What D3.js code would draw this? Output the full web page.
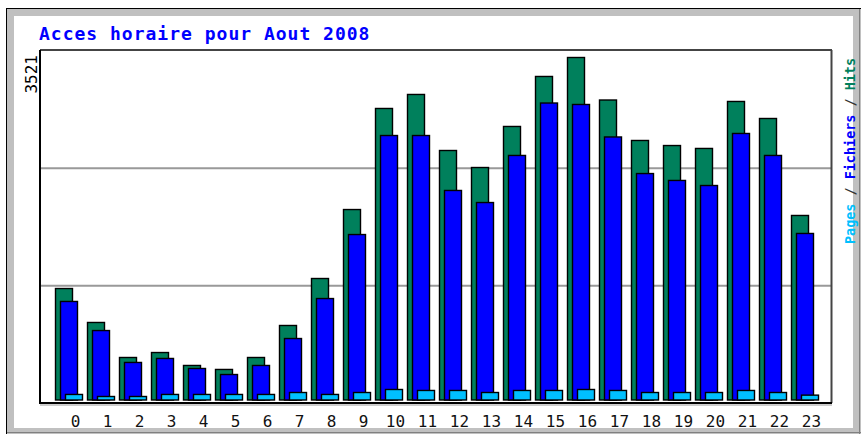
<!DOCTYPE html>
<html>
<head>
<meta charset="utf-8">
<script src="https://cdn.jsdelivr.net/npm/d3@7"></script>
<style>
  body { margin: 0; background: #fff; }
  svg { display: block; }
</style>
</head>
<body>
<div id="main"></div>
<script>
// données (accès par heure, août 2008)
const hours = d3.range(0, 24);
const hits = [1146, 797, 437, 488, 355, 314, 437, 766, 1249, 1958, 2997, 3141,
              2565, 2390, 2812, 3326, 3521, 3084, 2668, 2616, 2586, 3069, 2894, 1897];
const fichiers = [1013, 714, 386, 427, 324, 262, 355, 632, 1043, 1701, 2719, 2719,
                  2154, 2030, 2514, 3053, 3038, 2704, 2328, 2257, 2205, 2740, 2514, 1712];
const pages = [57, 36, 36, 57, 57, 57, 57, 77, 57, 77, 108, 98,
               98, 77, 98, 98, 108, 98, 77, 77, 77, 98, 77, 50];
const maxLabel = "3521";
const titre = "Acces horaire pour Aout 2008";

const ctx = {
  W: 861, H: 434,
  plotL: 40, plotT: 50, plotR: 831, plotB: 403,
  barW: 17, offset: 5,
  cHits: "#00805c", cFich: "#0000ff", cPages: "#00c0ff",
};

function drawFrame(svg) {
  // cadre gris façon webalizer
  svg.append("rect").attr("x", 6).attr("y", 8).attr("width", ctx.W - 6).attr("height", ctx.H - 8)
    .attr("fill", "#c0c0c0");
  svg.append("rect").attr("x", 14).attr("y", 16).attr("width", 839).attr("height", 412)
    .attr("fill", "#fff");
  svg.append("line").attr("x1", 6).attr("x2", ctx.W).attr("y1", 8.5).attr("y2", 8.5)
    .attr("stroke", "#000");
  svg.append("line").attr("x1", 6.5).attr("x2", 6.5).attr("y1", 8).attr("y2", ctx.H)
    .attr("stroke", "#000");
  svg.append("line").attr("x1", 859.5).attr("x2", 859.5).attr("y1", 9).attr("y2", ctx.H)
    .attr("stroke", "#808080");
  svg.append("line").attr("x1", 7).attr("x2", ctx.W).attr("y1", 432.5).attr("y2", 432.5)
    .attr("stroke", "#808080");
}

function drawChart(svg) {
  const x = d3.scaleBand().domain(hours).range([55, 55 + 32 * 24]);
  const y = d3.scaleLinear().domain([0, 3521]).range([399.5, 57]);
  const yGrid = d3.scaleLinear().domain([0, 3]).range([ctx.plotB, ctx.plotT]);

  // grille
  svg.append("g").selectAll("line").data([1, 2]).join("line")
    .attr("x1", ctx.plotL).attr("x2", ctx.plotR)
    .attr("y1", d => yGrid(d) + 0.5).attr("y2", d => yGrid(d) + 0.5)
    .attr("stroke", "#999").attr("stroke-width", 2);

  // cadre du graphique
  svg.append("line").attr("x1", ctx.plotL).attr("x2", ctx.plotR + 1)
    .attr("y1", ctx.plotT).attr("y2", ctx.plotT).attr("stroke", "#444").attr("stroke-width", 2);
  svg.append("line").attr("x1", ctx.plotR + 0.5).attr("x2", ctx.plotR + 0.5)
    .attr("y1", ctx.plotT).attr("y2", ctx.plotB).attr("stroke", "#444").attr("stroke-width", 2);

  const series = [
    { vals: hits, color: ctx.cHits, k: 0 },
    { vals: fichiers, color: ctx.cFich, k: 1 },
    { vals: pages, color: ctx.cPages, k: 2 },
  ];
  series.forEach(s => {
    svg.append("g").selectAll("rect").data(hours).join("rect")
      .attr("x", h => x(h) + s.k * ctx.offset + 0.5)
      .attr("y", h => y(s.vals[h]) + 0.5)
      .attr("width", ctx.barW)
      .attr("height", h => y(0) - y(s.vals[h]))
      .attr("fill", s.color)
      .attr("stroke", "#000")
      .attr("stroke-width", 1.4);
  });

  svg.append("line").attr("x1", ctx.plotL).attr("x2", ctx.plotL)
    .attr("y1", ctx.plotT).attr("y2", ctx.plotB + 1).attr("stroke", "#000").attr("stroke-width", 2);
  svg.append("line").attr("x1", ctx.plotL).attr("x2", ctx.plotR + 1)
    .attr("y1", ctx.plotB).attr("y2", ctx.plotB).attr("stroke", "#000").attr("stroke-width", 2);
  svg.append("line").attr("x1", ctx.plotL).attr("x2", ctx.plotR + 1)
    .attr("y1", ctx.plotB + 2).attr("y2", ctx.plotB + 2).attr("stroke", "#999").attr("stroke-width", 1);

  // heures
  svg.append("g").selectAll("text").data(hours).join("text")
    .attr("x", h => x(h) + 20.5)
    .attr("y", 427)
    .attr("text-anchor", "middle")
    .attr("font-family", "DejaVu Sans Mono, monospace")
    .attr("font-size", 16)
    .attr("fill", "#111")
    .text(h => h);

  // titre
  svg.append("text").attr("x", 39).attr("y", 40)
    .attr("font-family", "DejaVu Sans Mono, monospace")
    .attr("font-weight", "bold").attr("font-size", 18)
    .attr("letter-spacing", 1)
    .attr("fill", "#0000ff")
    .text(titre);

  // maximum
  svg.append("text").attr("transform", "translate(37,55) rotate(-90)")
    .attr("text-anchor", "end")
    .attr("font-family", "DejaVu Sans Mono, monospace")
    .attr("font-size", 16).attr("fill", "#000")
    .text(maxLabel);

  // légende
  const leg = svg.append("text").attr("transform", "translate(855,58) rotate(-90)")
    .attr("text-anchor", "end")
    .attr("font-family", "DejaVu Sans Mono, monospace")
    .attr("font-weight", "bold").attr("font-size", 14)
    .attr("textLength", 186).attr("lengthAdjust", "spacingAndGlyphs");
  [["Pages", ctx.cPages], [" / ", "#333"], ["Fichiers", ctx.cFich], [" / ", "#333"], ["Hits", ctx.cHits]]
    .forEach(([t, c]) => leg.append("tspan").attr("fill", c).text(t));
}

const svg = d3.select("#main").append("svg").attr("width", ctx.W).attr("height", ctx.H);
drawFrame(svg);
drawChart(svg);
</script>
</body>
</html>
